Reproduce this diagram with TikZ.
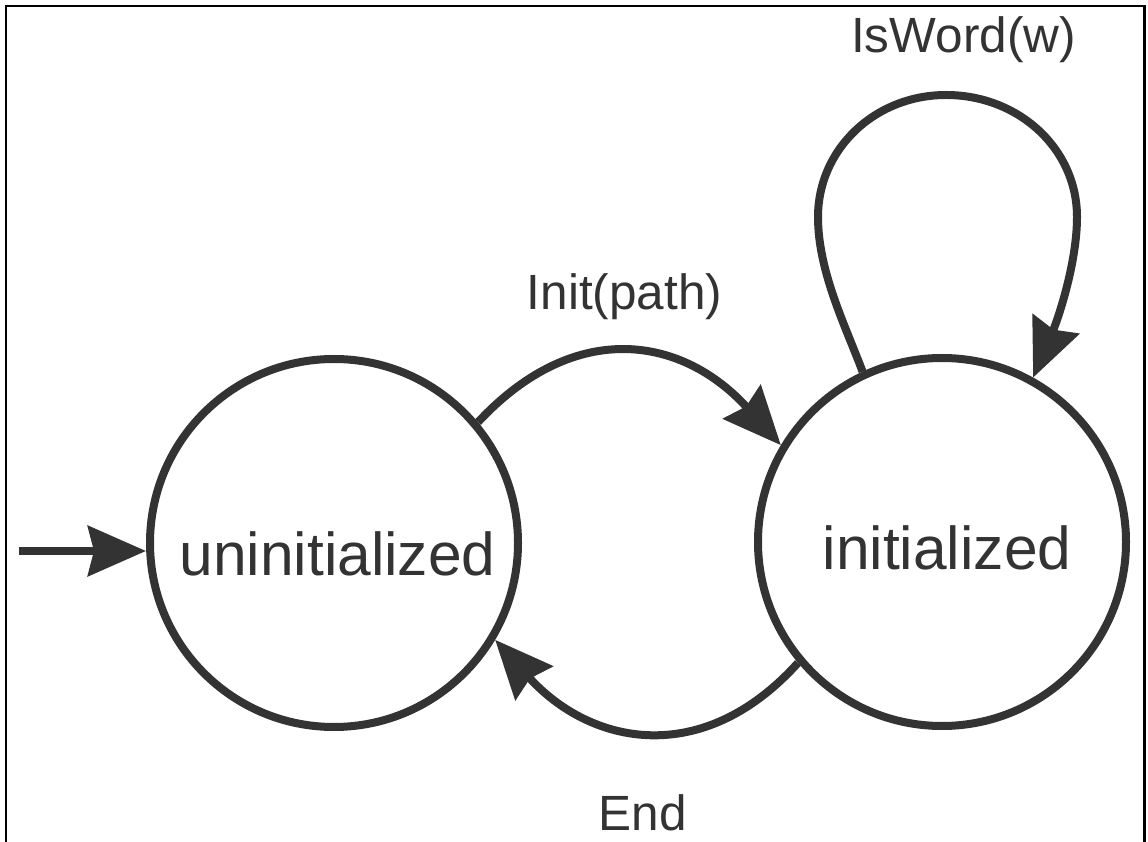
\documentclass[tikz,border=0pt]{standalone}
\usepackage{fontspec}
\setmainfont{Liberation Sans}
\usetikzlibrary{arrows.meta}
\definecolor{ink}{HTML}{333333}
\begin{document}
\begin{tikzpicture}[x=1pt,y=1pt,
  state/.style={circle, draw=ink, line width=8pt, minimum size=368pt, inner sep=0pt},
  statetext/.style={anchor=base, text=ink, font=\fontsize{60.5}{70}\selectfont, inner sep=0pt},
  lbl/.style={anchor=base, text=ink, font=\fontsize{49.5}{60}\selectfont, inner sep=0pt},
  conn/.style={draw=ink, line width=8pt, -{Stealth[length=58pt,width=50pt,inset=6pt]}},
  frame/.style={draw=black, line width=2.5pt}]
\useasboundingbox (0,0) rectangle (1148,841);
\clip (0,0) rectangle (1148,841);
\fill[white] (0,0) rectangle (1148,841);
\draw[frame] (6,-20) -- (6,835) -- (1144.5,835) -- (1144.5,-20);
% states
\node[state] (u) at (334,298) {};
\node[state] (i) at (942,299) {};
\node[statetext] (ut) at (337.5,265) {uninitialized};
\node[statetext] (it) at (947,271) {initialized};
% labels
\node[lbl] (linit) at (624.5,531) {Init(path)};
\node[lbl] (lword) at (963.5,788) {IsWord(w)};
\node[lbl] (lend) at (643,11) {End};
% connectors
\coordinate (start) at (19,290);
\draw[conn] (start) -- (start -| u.west);
\draw[conn] (u.40.7) to[out=47,in=132,looseness=1.22] (i.149.6);
\draw[conn] (i.220.2) to[out=228,in=-48,looseness=1.2] (u.329.5);
\coordinate (loopl) at (818,624);
\coordinate (looptop) at (946,746);
\coordinate (loopr) at (1077,624);
\draw[conn] (i.115) .. controls (845,516) and (818,570) .. (loopl)
   .. controls (818,692) and (875,746) .. (looptop)
   .. controls (1019,746) and (1077,692) .. (loopr)
   .. controls (1077,578) and (1058,522) .. (i.61);
\end{tikzpicture}
\end{document}
